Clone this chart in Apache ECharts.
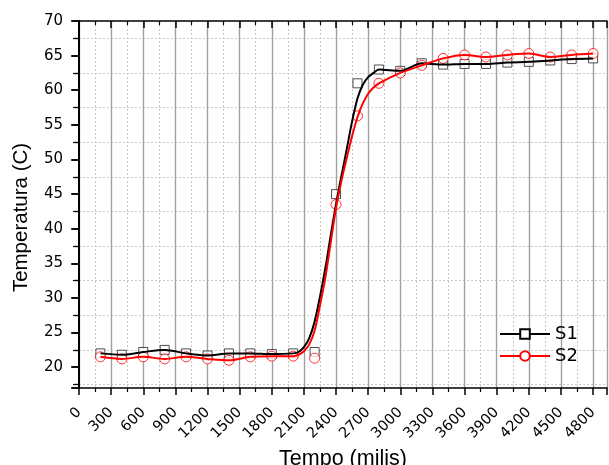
<!DOCTYPE html>
<html>
<head>
<meta charset="utf-8">
<script src="https://cdn.jsdelivr.net/npm/echarts@6/dist/echarts.min.js"></script>
<style>
  html, body { margin: 0; padding: 0; background: #fff; }
  #chart { width: 609px; height: 465px; }
</style>
</head>
<body>
<div id="chart"></div>
<script>
// measured points (ms, degrees C)
const tempo = [200, 400, 600, 800, 1000, 1200, 1400, 1600, 1800, 2000, 2200, 2400,
               2600, 2800, 3000, 3200, 3400, 3600, 3800, 4000, 4200, 4400, 4600, 4800]
const s1 = [22.0, 21.8, 22.2, 22.5, 22.0, 21.7, 22.0, 22.0, 21.9, 22.0, 22.2, 45.0,
            61.0, 63.0, 62.8, 63.9, 63.7, 63.8, 63.8, 64.0, 64.1, 64.3, 64.5, 64.6]
const s2 = [21.5, 21.2, 21.5, 21.2, 21.5, 21.2, 21.0, 21.5, 21.6, 21.6, 21.3, 43.5,
            56.3, 61.0, 62.5, 63.6, 64.6, 65.1, 64.8, 65.1, 65.3, 64.8, 65.1, 65.3]

// smoothed curve through the rise
const curveTempo = [2050, 2100, 2150, 2200, 2250, 2300, 2350, 2400, 2450, 2500, 2550, 2600, 2650, 2700, 2750]
const curve1 = [22.2, 22.9, 24.2, 26.6, 30.2, 34.3, 39.0, 43.6, 47.6, 51.5, 55.5, 58.8, 60.8, 61.9, 62.5]
const curve2 = [21.8, 22.3, 23.3, 25.3, 28.9, 32.9, 38.0, 43.0, 46.9, 50.2, 53.4, 56.1, 58.1, 59.5, 60.4]

function lineData(vals, curve) {
  let pts = []
  tempo.forEach((t, i) => {
    if (t <= 2000 || t >= 2800) pts.push([t, vals[i]])
  })
  curveTempo.forEach((t, i) => pts.push([t, curve[i]]))
  pts.sort((a, b) => a[0] - b[0])
  return pts
}

const font = 'Liberation Sans, Arial, sans-serif'
const wide = 'DejaVu Sans, sans-serif'
const dotted = { show: true, lineStyle: { color: '#c8c8c8', type: [2, 2], width: 1 } }

let chart = echarts.init(document.getElementById('chart'))
chart.setOption({
  animation: false,
  grid: { left: 79, right: 2, top: 21, bottom: 77, outerBoundsMode: 'none' },
  legend: {
    data: ['S1', 'S2'],
    orient: 'vertical',
    left: 494,
    top: 320,
    itemWidth: 50,
    itemHeight: 12,
    itemGap: 4,
    textStyle: { fontFamily: wide, fontSize: 18, color: '#000' }
  },
  xAxis: [
    {
      type: 'value',
      min: 0,
      max: 4930,
      interval: 300,
      name: 'Tempo (milis)',
      nameLocation: 'middle',
      nameGap: 59,
      nameTextStyle: { fontFamily: font, fontSize: 21.5, color: '#000' },
      axisLine: { lineStyle: { color: '#000', width: 1.5 } },
      axisTick: { length: 7, lineStyle: { color: '#000', width: 1.5 } },
      minorTick: { show: true, splitNumber: 2, length: 4, lineStyle: { color: '#000', width: 1.2 } },
      splitLine: { show: true, lineStyle: { color: '#a0a0a0', width: 1.4 } },
      minorSplitLine: dotted,
      axisLabel: {
        rotate: 45,
        margin: 22,
        fontFamily: wide,
        fontSize: 14.5,
        color: '#000',
        formatter: v => (v % 300 === 0 ? String(v) : '')
      }
    },
    {
      type: 'value',
      position: 'top',
      min: 0,
      max: 4930,
      interval: 300,
      axisLine: { show: true, lineStyle: { color: '#000', width: 1.5 } },
      axisTick: { inside: true, length: 7, lineStyle: { color: '#000', width: 1.5 } },
      minorTick: { show: true, splitNumber: 2, length: 4, lineStyle: { color: '#000', width: 1.2 } },
      splitLine: { show: false },
      axisLabel: { show: false }
    }
  ],
  yAxis: [
    {
      type: 'value',
      min: 17,
      max: 70,
      splitNumber: 10,
      name: 'Temperatura (C)',
      nameLocation: 'middle',
      nameGap: 47,
      nameTextStyle: { fontFamily: font, fontSize: 20.5, color: '#000', padding: [0, 26, 0, 0] },
      axisLine: { show: true, lineStyle: { color: '#000', width: 2 } },
      axisTick: { length: 8, lineStyle: { color: '#000', width: 1.5 } },
      minorTick: { show: true, splitNumber: 2, length: 6, lineStyle: { color: '#000', width: 1.2 } },
      splitLine: { show: false },
      minorSplitLine: dotted,
      axisLabel: {
        margin: 16,
        fontFamily: wide,
        fontSize: 15,
        color: '#000',
        formatter: v => (v % 5 === 0 ? String(v) : '')
      }
    },
    {
      type: 'value',
      position: 'right',
      min: 17,
      max: 70,
      splitNumber: 10,
      axisLine: { show: true, lineStyle: { color: '#000', width: 1.5 } },
      axisTick: { inside: true, length: 7, lineStyle: { color: '#000', width: 1.5 } },
      minorTick: { show: true, splitNumber: 2, length: 4, lineStyle: { color: '#000', width: 1.2 } },
      splitLine: { show: false },
      axisLabel: { show: false }
    }
  ],
  series: [
    {
      name: 'S1',
      type: 'line',
      data: lineData(s1, curve1),
      smooth: 0.3,
      showSymbol: false,
      symbol: 'rect',
      symbolSize: 9,
      lineStyle: { color: '#000', width: 2 },
      itemStyle: { color: '#fff', borderColor: '#000', borderWidth: 1 }
    },
    {
      name: 'S1 pontos',
      type: 'scatter',
      data: tempo.map((t, i) => [t, s1[i]]),
      symbol: 'rect',
      symbolSize: 9,
      itemStyle: { color: '#fff', borderColor: '#222', borderWidth: 1 }
    },
    {
      name: 'S2',
      type: 'line',
      data: lineData(s2, curve2),
      smooth: 0.3,
      showSymbol: false,
      symbol: 'circle',
      symbolSize: 10,
      lineStyle: { color: '#ff0000', width: 2 },
      itemStyle: { color: '#fff', borderColor: '#ff0000', borderWidth: 1 }
    },
    {
      name: 'S2 pontos',
      type: 'scatter',
      data: tempo.map((t, i) => [t, s2[i]]),
      symbol: 'circle',
      symbolSize: 10,
      itemStyle: { color: '#fff', borderColor: '#ff0000', borderWidth: 1 }
    }
  ]
})
</script>
</body>
</html>
